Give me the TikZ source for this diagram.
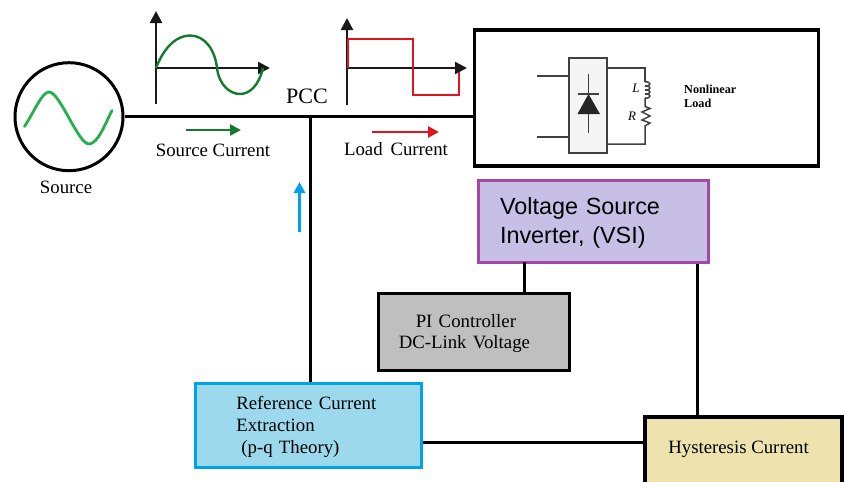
\documentclass[tikz,border=0pt]{standalone}
\usepackage{fontspec}
\setmainfont{Liberation Serif}
\newfontfamily\vsifont{Liberation Sans}
\usepackage{xcolor}
\usetikzlibrary{arrows.meta, positioning}
\definecolor{srcgreen}{HTML}{22B14C}
\definecolor{darkgreen}{HTML}{157A2C}
\definecolor{loadred}{HTML}{E0141C}
\definecolor{refblue}{HTML}{00A2E8}
\definecolor{reffill}{HTML}{9CD9EC}
\definecolor{vsifill}{HTML}{C7BFE6}
\definecolor{vsiedge}{HTML}{A349A4}
\definecolor{hystfill}{HTML}{EEE2AE}
\begin{document}
\begin{tikzpicture}[
        x=1pt, y=-1pt,
        wire/.style={draw=black, line width=3pt},
        thin wire/.style={draw=black!75, line width=1.5pt},
        axis/.style={-{Stealth[length=12pt, width=12pt, inset=0pt]}, draw=black!90, line width=2.4pt},
        flow/.style={-{Stealth[length=11pt, width=11pt, inset=0pt]}, line width=2.6pt},
        lab/.style={font=\fontsize{18.8}{22}\selectfont, inner sep=0pt},
        blockbox/.style={rectangle, line width=3pt, align=left, inner ysep=0pt, font=\fontsize{18.8}{22}\selectfont},
        small/.style={inner sep=0pt, font=\fontsize{12.2}{14}\selectfont\bfseries, align=left}
    ]
    \useasboundingbox (0,0) rectangle (844,482);

    % Source and nonlinear load on the top line
    \node (source) [circle, draw=black, line width=3pt, minimum size=108pt, inner sep=0pt] at (69,116.7) {};
    \node (sourcelab) [lab] at (66,187) {Source};
    \node (load) [rectangle, draw=black, line width=3.2pt, minimum width=344pt, minimum height=136pt] at (646.5,98) {};
    \node (pcclab) [lab, font=\fontsize{22}{24}\selectfont] at (307,96) {PCC};
    \node (srclab) [lab] at (213,150) {Source Current};
    \node (loadlab) [lab] at (396,149.5) {Load\, Current};

    % Lower blocks
    \node (vsi) [blockbox, draw=vsiedge, fill=vsifill, minimum width=230pt, minimum height=82pt, text width=186pt, inner xsep=22pt, text height=21pt,
        font=\vsifont\fontsize{23.4}{29.5}\selectfont] at (593,221) {Voltage Source\\Inverter, (VSI)};
    \node (pi) [blockbox, draw=black, fill=black!25, minimum width=191.5pt, minimum height=77pt, text width=150pt, inner xsep=20.75pt, text height=16pt,
        font=\fontsize{18.8}{21}\selectfont] at (473.75,332) {\hspace*{17pt}PI Controller\\DC-Link Voltage};
    \node (ref) [blockbox, draw=refblue, fill=reffill, minimum width=226.7pt, minimum height=84.7pt, text width=144pt, inner xsep=41.35pt, text height=16pt] at (308.35,425.35) {Reference Current\\Extraction\\\hspace*{5pt}(p-q Theory)};
    \node (hyst) [rectangle, draw=black, line width=3.4pt, fill=hystfill, minimum width=197pt, minimum height=72pt] at (743.5,453) {};
    \node (hystlab) [lab] at (738.5,449) {Hysteresis Current};

    % Connections
    \coordinate (srcout) at (source.east);
    \coordinate (pcc) at (310,116.7);
    \coordinate (refout) at ([yshift=-17pt]ref.east);
    \coordinate (vsiout) at ([xshift=-12.3pt]vsi.south east);
    \coordinate (vsipi) at (524,262);
    \draw [wire] (srcout) -- (srcout -| load.west);
    \draw [wire] (pcc) -- (pcc |- ref.north);
    \draw [wire] (vsipi) -- (vsipi |- pi.north);
    \draw [wire] (vsiout) -- (vsiout |- hyst.north);
    \draw [wire] (refout) -- (refout -| hyst.west);

    % Current direction arrows
    \draw [flow, darkgreen] (186,130) -- (241,130);
    \draw [flow, loadred] (372,132) -- (439,132);
    \draw [flow, refblue, line width=3pt] (299.5,232) -- (299.5,182);

    % Waveforms
    \draw [line width=2.8pt, line cap=round, srcgreen] (24.5,126.5) .. controls (34,112) and (42,92) .. (49,92) .. controls (60,92) and (78,144) .. (89,144) .. controls (98,144) and (106,122) .. (112,110.5);
    \draw [axis] (156,104) -- (156,11);
    \draw [axis] (156,68) -- (270,68);
    \draw [line width=2.4pt, darkgreen] (156,68) .. controls (165,45) and (178,35.5) .. (190,35.5) .. controls (205,35.5) and (215,50) .. (217,68) .. controls (219,85) and (230,94) .. (240,94) .. controls (250,94) and (259,85) .. (263,68);
    \draw [axis] (347,105) -- (347,18);
    \draw [axis] (347,68) -- (467,68);
    \draw [line width=2.8pt, loadred] (348,68) -- (348,39) -- (413,39) -- (413,95) -- (459,95) -- (459,72);

    % Rectifier with the RL branch
    \node (rect) [rectangle, draw=black!75, line width=1.5pt, fill=black!4, minimum width=38pt, minimum height=95pt] at (588,105.5) {};
    \draw [thin wire] (537,76) -- (537,76 -| rect.west);
    \draw [thin wire] (537,137) -- (537,137 -| rect.west);
    \draw [thin wire] (588.5,74) -- (588.5,133);
    \draw [thin wire] (578,94) -- (599,94);
    \fill [black!85] (588.5,94) -- (600,114) -- (577.5,114) -- cycle;
    \draw [thin wire] (607,68) -- (645,68) -- (645,82);
    \foreach \i in {0,1,2,3}
        \draw [thin wire] (645,{82+4*\i}) .. controls (651.5,{81+4*\i}) and (651.5,{87+4*\i}) .. (645,{86+4*\i});
    \draw [thin wire] (645,98) -- (645,106.5) -- (650,108.5) -- (642,112) -- (650,116) -- (642,120) -- (650,123) -- (645,126) -- (645,144) -- (607,144);
    \node (llab) [inner sep=0pt, font=\fontsize{13}{15}\selectfont\itshape] at (636,88) {L};
    \node (rlab) [inner sep=0pt, font=\fontsize{13}{15}\selectfont\itshape] at (632,116) {R};
    \node (nllab) [small, anchor=west] at (684,96) {Nonlinear\\Load};

\end{tikzpicture}
\end{document}
